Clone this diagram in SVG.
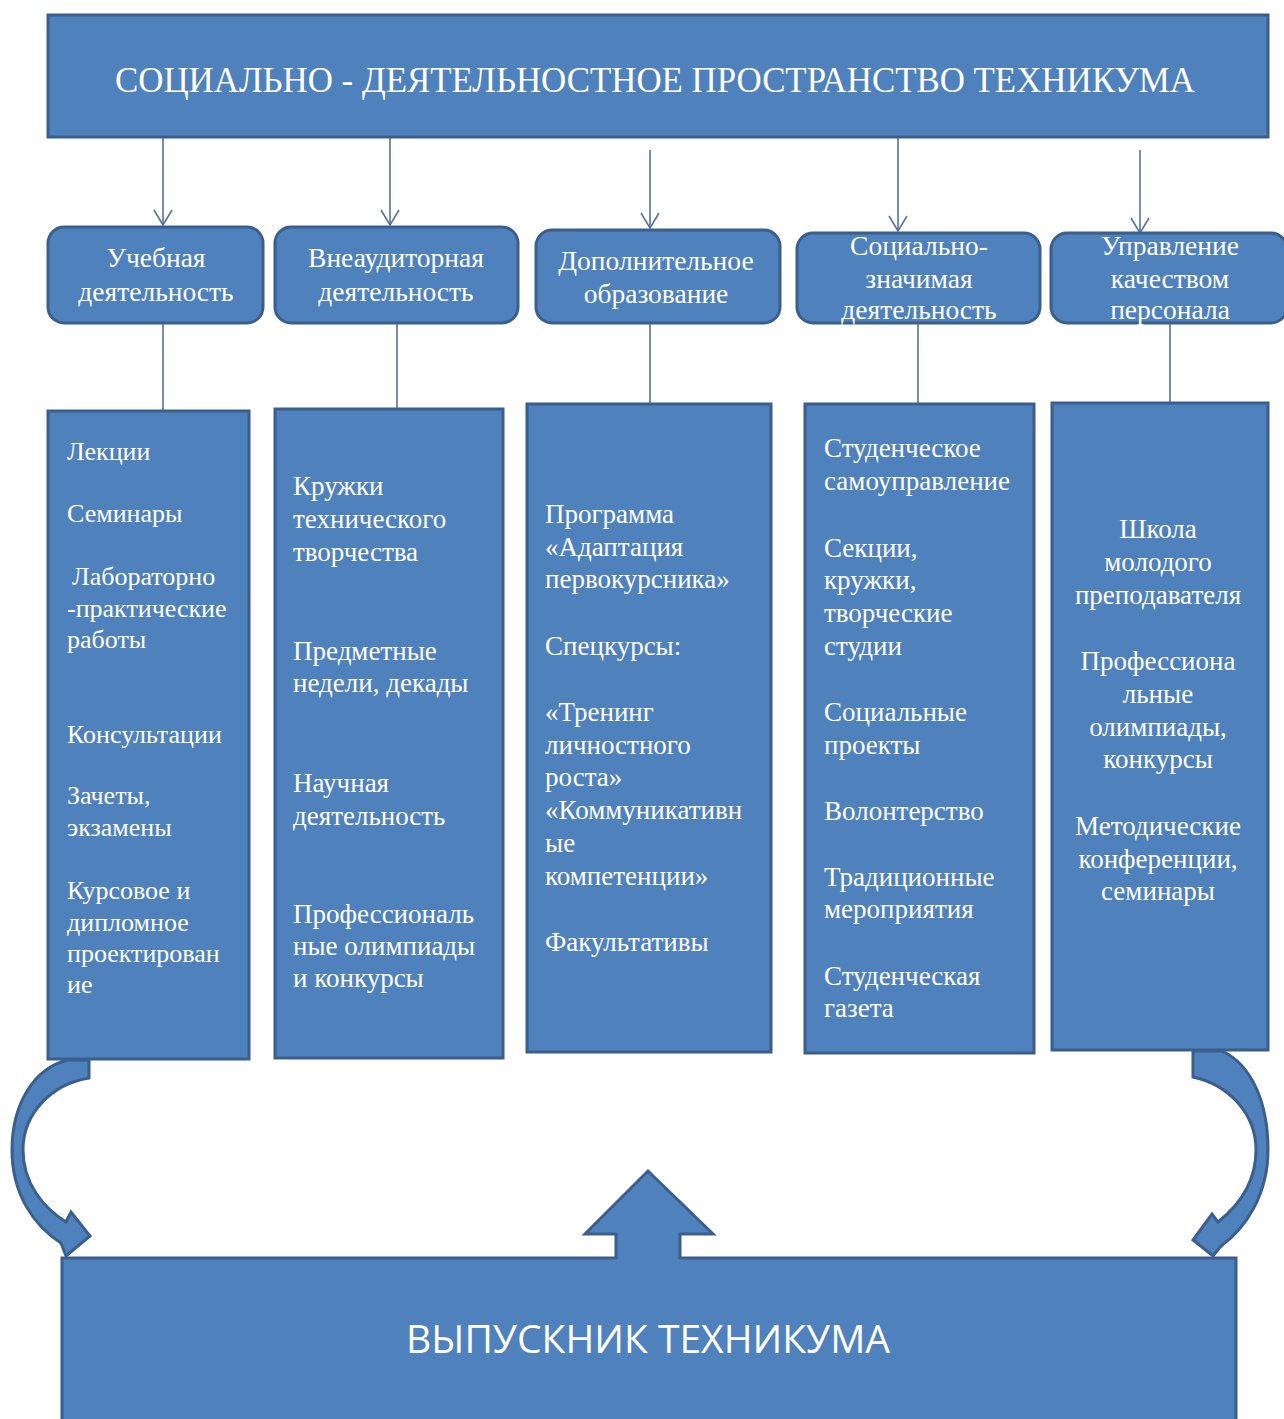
<svg xmlns="http://www.w3.org/2000/svg" width="1284" height="1419" viewBox="0 0 1284 1419">
<style>
.box{fill:#4F81BD;stroke:#3A5F8D;stroke-width:3}
.shape{fill:#4F81BD;stroke:#3A5F8D;stroke-width:3;stroke-linejoin:miter}
.t{font-family:"Liberation Serif","Times New Roman",serif;fill:#FFFFFF;font-size:27px}
.t1{font-size:26px}
.n{font-family:"Liberation Serif","Times New Roman",serif;fill:#FFFFFF;font-size:27.5px;text-anchor:middle}
.c5{text-anchor:middle}
.ln{stroke:#55739A;stroke-width:1.6;fill:none}
</style>
<defs>
<marker id="v" viewBox="-1 -10 18 20" refX="15" refY="0" markerWidth="18" markerHeight="20" markerUnits="userSpaceOnUse" orient="auto">
<path d="M0,-9 L15,0 L0,9" fill="none" stroke="#55739A" stroke-width="1.6"/>
</marker>
</defs>
<rect width="1284" height="1419" fill="#FFFFFF"/>

<g id="connectors">
<line class="ln" x1="163" y1="138" x2="163" y2="225" marker-end="url(#v)"/>
<line class="ln" x1="390" y1="138" x2="390" y2="225" marker-end="url(#v)"/>
<line class="ln" x1="650" y1="150" x2="650" y2="228" marker-end="url(#v)"/>
<line class="ln" x1="898" y1="138" x2="898" y2="231" marker-end="url(#v)"/>
<line class="ln" x1="1140" y1="150" x2="1140" y2="233" marker-end="url(#v)"/>
<line class="ln" x1="163" y1="324" x2="163" y2="410"/>
<line class="ln" x1="397" y1="324" x2="397" y2="408"/>
<line class="ln" x1="650" y1="324" x2="650" y2="403"/>
<line class="ln" x1="918" y1="324" x2="918" y2="403"/>
<line class="ln" x1="1170" y1="324" x2="1170" y2="403"/>
</g>

<g id="title">
<rect class="box" x="48" y="15" width="1220" height="122"/>
<text x="655" y="92" font-family="'Liberation Serif','Times New Roman',serif" font-size="35" fill="#FFFFFF" text-anchor="middle" textLength="1080" lengthAdjust="spacingAndGlyphs">СОЦИАЛЬНО - ДЕЯТЕЛЬНОСТНОЕ ПРОСТРАНСТВО ТЕХНИКУМА</text>
</g>

<g id="node-uchebnaya">
<rect class="box" x="48" y="227" width="215" height="96" rx="16"/>
<text class="n" x="156" y="267">Учебная</text>
<text class="n" x="156" y="301">деятельность</text>
</g>
<g id="node-vneaud">
<rect class="box" x="275" y="227" width="243" height="96" rx="16"/>
<text class="n" x="396" y="267">Внеаудиторная</text>
<text class="n" x="396" y="301">деятельность</text>
</g>
<g id="node-dop">
<rect class="box" x="536" y="230" width="244" height="93" rx="16"/>
<text class="n" x="656" y="270">Дополнительное</text>
<text class="n" x="656" y="303">образование</text>
</g>
<g id="node-soc">
<rect class="box" x="797" y="233" width="243" height="90" rx="16"/>
<text class="n" x="919" y="255">Социально-</text>
<text class="n" x="919" y="288">значимая</text>
<text class="n" x="919" y="319">деятельность</text>
</g>
<g id="node-upr">
<rect class="box" x="1051" y="233" width="236" height="90" rx="16"/>
<text class="n" x="1170" y="255">Управление</text>
<text class="n" x="1170" y="288">качеством</text>
<text class="n" x="1170" y="319">персонала</text>
</g>

<g id="col-1">
<rect class="box" x="48" y="411" width="201" height="648"/>
<text class="t t1" x="67" y="460">Лекции</text>
<text class="t t1" x="67" y="522">Семинары</text>
<text class="t t1" x="72" y="585">Лабораторно</text>
<text class="t t1" x="67" y="617">-практические</text>
<text class="t t1" x="67" y="648">работы</text>
<text class="t t1" x="67" y="743">Консультации</text>
<text class="t t1" x="67" y="804">Зачеты,</text>
<text class="t t1" x="67" y="836">экзамены</text>
<text class="t t1" x="67" y="899">Курсовое и</text>
<text class="t t1" x="67" y="931">дипломное</text>
<text class="t t1" x="67" y="962">проектирован</text>
<text class="t t1" x="67" y="993">ие</text>
</g>
<g id="col-2">
<rect class="box" x="275" y="409" width="228" height="649"/>
<text class="t" x="293" y="495">Кружки</text>
<text class="t" x="293" y="528">технического</text>
<text class="t" x="293" y="561">творчества</text>
<text class="t" x="293" y="660">Предметные</text>
<text class="t" x="293" y="692">недели, декады</text>
<text class="t" x="293" y="792">Научная</text>
<text class="t" x="293" y="825">деятельность</text>
<text class="t" x="293" y="923">Профессиональ</text>
<text class="t" x="293" y="955">ные олимпиады</text>
<text class="t" x="293" y="987">и конкурсы</text>
</g>
<g id="col-3">
<rect class="box" x="527" y="404" width="244" height="648"/>
<text class="t" x="545" y="523">Программа</text>
<text class="t" x="545" y="556">«Адаптация</text>
<text class="t" x="545" y="588">первокурсника»</text>
<text class="t" x="545" y="655">Спецкурсы:</text>
<text class="t" x="545" y="721">«Тренинг</text>
<text class="t" x="545" y="754">личностного</text>
<text class="t" x="545" y="786">роста»</text>
<text class="t" x="545" y="819">«Коммуникативн</text>
<text class="t" x="545" y="852">ые</text>
<text class="t" x="545" y="885">компетенции»</text>
<text class="t" x="545" y="951">Факультативы</text>
</g>
<g id="col-4">
<rect class="box" x="805" y="404" width="229" height="649"/>
<text class="t" x="824" y="457">Студенческое</text>
<text class="t" x="824" y="490">самоуправление</text>
<text class="t" x="824" y="557">Секции,</text>
<text class="t" x="824" y="589">кружки,</text>
<text class="t" x="824" y="622">творческие</text>
<text class="t" x="824" y="655">студии</text>
<text class="t" x="824" y="721">Социальные</text>
<text class="t" x="824" y="754">проекты</text>
<text class="t" x="824" y="820">Волонтерство</text>
<text class="t" x="824" y="886">Традиционные</text>
<text class="t" x="824" y="918">мероприятия</text>
<text class="t" x="824" y="985">Студенческая</text>
<text class="t" x="824" y="1017">газета</text>
</g>
<g id="col-5">
<rect class="box" x="1052" y="403" width="216" height="647"/>
<text class="t c5" x="1158" y="538">Школа</text>
<text class="t c5" x="1158" y="571">молодого</text>
<text class="t c5" x="1158" y="604">преподавателя</text>
<text class="t c5" x="1158" y="670">Профессиона</text>
<text class="t c5" x="1158" y="703">льные</text>
<text class="t c5" x="1158" y="736">олимпиады,</text>
<text class="t c5" x="1158" y="768">конкурсы</text>
<text class="t c5" x="1158" y="835">Методические</text>
<text class="t c5" x="1158" y="868">конференции,</text>
<text class="t c5" x="1158" y="900">семинары</text>
</g>

<g id="curved-arrow-left">
<path class="shape" d="M89,1060 L89,1078 C52,1084 23,1113 23,1150 C23,1184 44,1208 66,1222 L71,1212 L90,1236 L66,1256 L61,1243 C34,1226 12,1194 12,1150 C12,1104 34,1068 68,1060 Z"/>
</g>
<g id="curved-arrow-right">
<path class="shape" d="M1193,1051 L1193,1077 C1230,1085 1256,1115 1256,1150 C1256,1184 1237,1207 1218,1222 L1212,1214 L1193,1240 L1213,1256 L1221,1246 C1246,1228 1268,1194 1268,1150 C1268,1100 1250,1064 1222,1051 Z"/>
</g>

<g id="graduate">
<path class="shape" d="M62,1258 L616,1258 L616,1234 L585,1234 L648,1171 L713,1234 L680,1234 L680,1258 L1236,1258 L1236,1430 L62,1430 Z"/>
<text x="648" y="1353" font-family="'Open Sans','Noto Sans',sans-serif" font-size="38" fill="#FFFFFF" text-anchor="middle" textLength="484" lengthAdjust="spacingAndGlyphs">ВЫПУСКНИК ТЕХНИКУМА</text>
</g>
</svg>
